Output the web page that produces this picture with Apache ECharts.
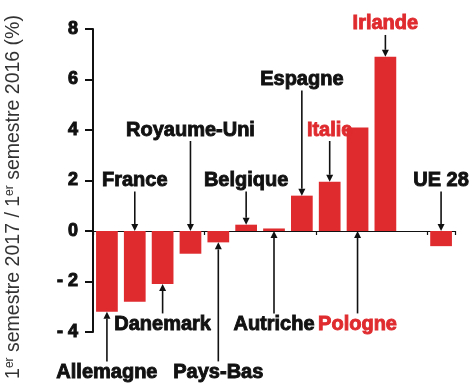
<!DOCTYPE html>
<html>
<head>
<meta charset="utf-8">
<script src="https://cdn.jsdelivr.net/npm/echarts@6/dist/echarts.min.js"></script>
<style>html,body{margin:0;padding:0;background:#fff;}#c{width:473px;height:383px;}</style>
</head>
<body>
<div id="c"></div>
<script>
// ---- data ----
const categories = ['Allemagne','France','Danemark','Royaume-Uni','Pays-Bas','Belgique','Autriche','Espagne','Italie','Pologne','Irlande','','UE 28'];
const values = [-3.2, -2.8, -2.1, -0.9, -0.45, 0.25, 0.1, 1.4, 1.95, 4.1, 6.9, null, -0.6];
const yTicks = [-4, -2, 0, 2, 4, 6, 8];
const redLabels = ['Italie', 'Pologne', 'Irlande'];
// annotation label level (in axis units) and arrow tip value
const annotLabelAt = [-5.6, 2.0, -3.7, 4.0, -5.6, 2.0, -3.7, 6.0, 4.0, -3.7, 8.2, null, 2.0];
const annotTipAt = [-3.2, 0, -2.1, 0, -0.45, 0.25, 0, 1.4, 1.95, 0, 6.9, null, 0];

const RED = '#df2a2e';
const chart = echarts.init(document.getElementById('c'), null, {renderer: 'canvas'});

const annotData = [];
categories.forEach((c, i) => {
  if (annotLabelAt[i] !== null) annotData.push([i, annotLabelAt[i], annotTipAt[i]]);
});

chart.setOption({
  animation: false,
  backgroundColor: '#fff',
  grid: {left: 93, right: 18, top: 29, bottom: 51, containLabel: false},
  xAxis: {
    type: 'category',
    data: categories,
    axisLine: {onZero: true, lineStyle: {color: '#111', width: 1.2}},
    axisTick: {show: true, length: 4, inside: false, lineStyle: {color: '#111', width: 1.2}},
    axisLabel: {show: false},
    splitLine: {show: false}
  },
  yAxis: {
    type: 'value',
    min: yTicks[0],
    max: yTicks[yTicks.length - 1],
    interval: yTicks[1] - yTicks[0],
    axisLine: {show: true, lineStyle: {color: '#111', width: 2}},
    axisTick: {show: true, length: 8, lineStyle: {color: '#111', width: 2}},
    splitLine: {show: false},
    axisLabel: {
      margin: 15,
      color: '#111',
      fontWeight: 'bold',
      fontSize: 18,
      fontFamily: 'Liberation Sans',
      textBorderColor: '#111',
      textBorderWidth: 1,
      formatter: v => (v < 0 ? '- ' + (-v) : String(v))
    }
  },
  graphic: [{
    type: 'text',
    x: 14,
    y: 197,
    rotation: Math.PI / 2,
    style: {
      text: '{n|1}{s|er}{n| semestre 2017 / 1}{s|er}{n| semestre 2016 (%)}',
      align: 'center',
      verticalAlign: 'middle',
      rich: {
        n: {fontSize: 19.5, fontFamily: 'Liberation Sans', fill: '#333', color: '#333'},
        s: {fontSize: 12, fontFamily: 'Liberation Sans', fill: '#333', color: '#333', verticalAlign: 'top'}
      }
    }
  }],
  series: [{
    type: 'bar',
    data: values,
    barWidth: '78%',
    itemStyle: {color: RED},
    z: 2
  }, {
    type: 'custom',
    data: annotData,
    z: 5,
    clip: false,
    renderItem: function (params, api) {
      const ci = api.value(0);
      const lab = api.coord([ci, api.value(1)]);
      const tip = api.coord([ci, api.value(2)]);
      const x = lab[0];
      const dir = tip[1] > lab[1] ? 1 : -1;
      const start = lab[1] + dir * 11;
      const headLen = 7, headW = 3.5;
      const name = categories[ci];
      const col = redLabels.indexOf(name) >= 0 ? RED : '#111';
      return {
        type: 'group',
        children: [{
          type: 'line',
          shape: {x1: x, y1: start, x2: x, y2: tip[1] - dir * headLen},
          style: {stroke: '#111', lineWidth: 1.6}
        }, {
          type: 'polygon',
          shape: {points: [[x - headW, tip[1] - dir * headLen], [x + headW, tip[1] - dir * headLen], [x, tip[1]]]},
          style: {fill: '#111'}
        }, {
          type: 'text',
          x: x,
          y: lab[1],
          style: {
            text: name,
            fill: col,
            stroke: col,
            lineWidth: 0.9,
            align: 'center',
            verticalAlign: 'middle',
            fontSize: 20,
            fontWeight: 'bold',
            fontFamily: 'Liberation Sans'
          }
        }]
      };
    }
  }]
});
</script>
</body>
</html>
